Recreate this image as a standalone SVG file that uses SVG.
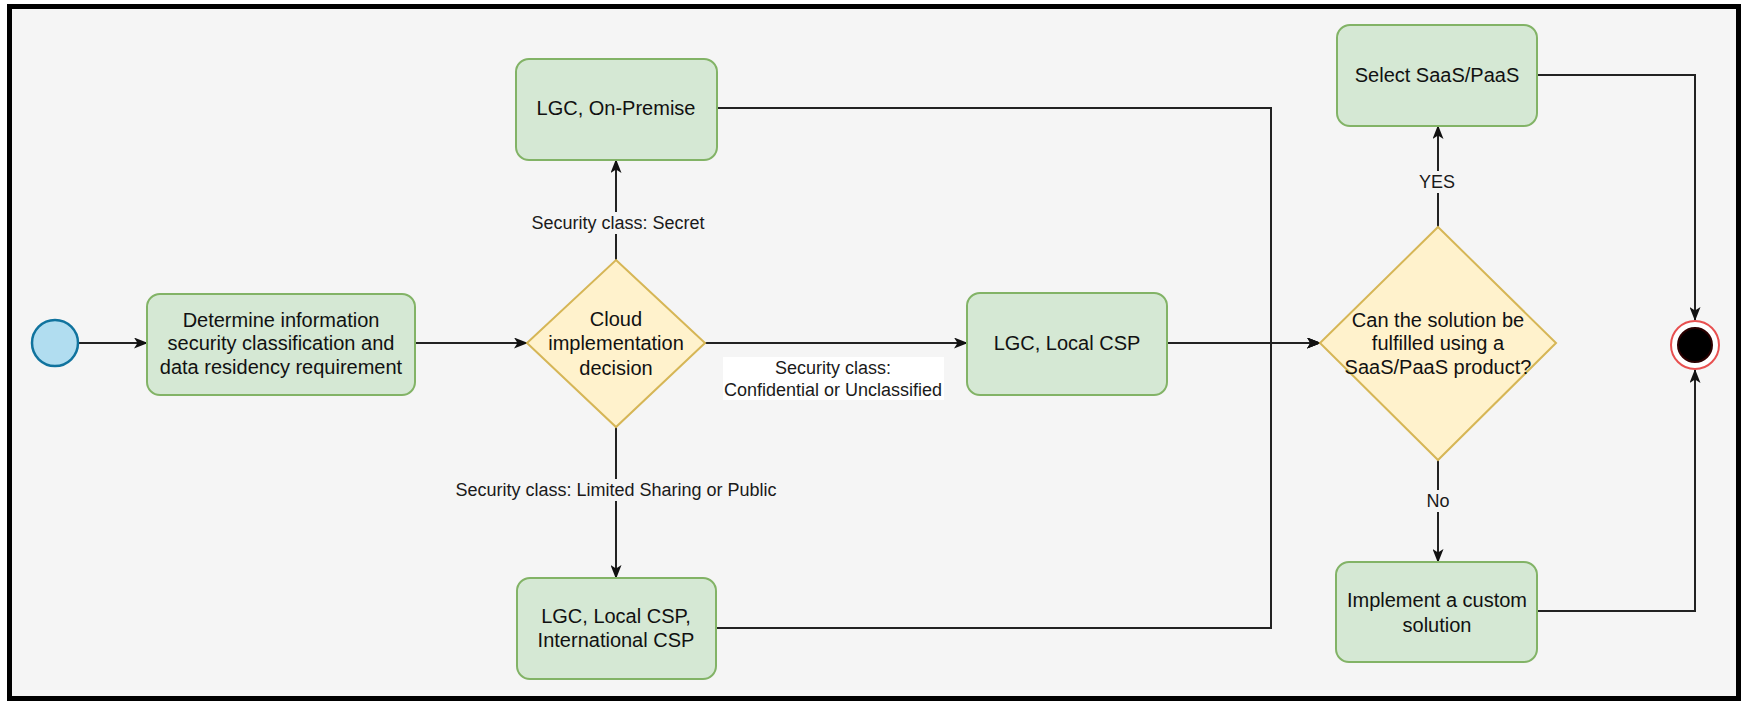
<svg xmlns="http://www.w3.org/2000/svg" width="1741" height="702" viewBox="0 0 1741 702">
  <style>
    .task { fill: #d5e8d4; stroke: #82b366; stroke-width: 2; }
    .gate { fill: #fff2cc; stroke: #d6b656; stroke-width: 2; }
    .node-text { font-family: "Liberation Sans", Arial, sans-serif; font-size: 20px; fill: #111; text-anchor: middle; }
    .edge { fill: none; stroke: #222; stroke-width: 2; }
    .edge-label { font-family: "Liberation Sans", Arial, sans-serif; font-size: 18px; fill: #1a1a1a; text-anchor: middle; }
    .label-bg { fill: #f5f5f5; }
  </style>
  <defs>
    <marker id="arrow" viewBox="0 0 14 11" refX="13" refY="5.5" markerWidth="14" markerHeight="11" markerUnits="userSpaceOnUse" orient="auto">
      <path d="M0,0 L14,5.5 L0,11 L3.5,5.5 Z" fill="#111"/>
    </marker>
  </defs>

  <!-- page background and frame -->
  <rect x="0" y="0" width="1741" height="702" fill="#ffffff"/>
  <rect x="9.5" y="6.5" width="1729" height="692" fill="#f5f5f5" stroke="#000" stroke-width="5"/>

  <!-- connectors -->
  <g id="connectors">
    <path class="edge" d="M79,343 H147" marker-end="url(#arrow)"/>
    <path class="edge" d="M415,343 H527" marker-end="url(#arrow)"/>
    <path class="edge" d="M616,260 V160" marker-end="url(#arrow)"/>
    <path class="edge" d="M705,343 H967" marker-end="url(#arrow)"/>
    <path class="edge" d="M616,427 V578" marker-end="url(#arrow)"/>
    <path class="edge" d="M717,108 H1271 V343 H1320" marker-end="url(#arrow)"/>
    <path class="edge" d="M716,628 H1271 V343 H1320" marker-end="url(#arrow)"/>
    <path class="edge" d="M1167,343 H1320" marker-end="url(#arrow)"/>
    <path class="edge" d="M1438,227 V126" marker-end="url(#arrow)"/>
    <path class="edge" d="M1438,460 V562" marker-end="url(#arrow)"/>
    <path class="edge" d="M1537,75 H1695 V320" marker-end="url(#arrow)"/>
    <path class="edge" d="M1537,611 H1695 V370" marker-end="url(#arrow)"/>

    <!-- edge labels -->
    <rect class="label-bg" x="530" y="212" width="176" height="22"/>
    <text class="edge-label" x="618" y="229">Security class: Secret</text>

    <rect x="723" y="357" width="221" height="43" fill="#ffffff"/>
    <text class="edge-label" x="833" y="374">Security class:</text>
    <text class="edge-label" x="833" y="396">Confidential or Unclassified</text>

    <rect class="label-bg" x="451" y="479" width="330" height="22"/>
    <text class="edge-label" x="616" y="496">Security class: Limited Sharing or Public</text>

    <rect class="label-bg" x="1418" y="171" width="40" height="22"/>
    <text class="edge-label" x="1437" y="188">YES</text>

    <rect class="label-bg" x="1424" y="490" width="28" height="22"/>
    <text class="edge-label" x="1438" y="507">No</text>
  </g>

  <!-- start event -->
  <g id="start">
    <circle cx="55" cy="343" r="23" fill="#b1ddf0" stroke="#10739e" stroke-width="2.5"/>
  </g>

  <!-- determine classification -->
  <g id="determine">
    <rect class="task" x="147" y="294" width="268" height="101" rx="13"/>
    <text class="node-text" x="281" y="327">Determine information</text>
    <text class="node-text" x="281" y="350">security classification and</text>
    <text class="node-text" x="281" y="374">data residency requirement</text>
  </g>

  <!-- cloud implementation decision -->
  <g id="cloud-decision">
    <polygon class="gate" points="616,260 705,343 616,427 527,343"/>
    <text class="node-text" x="616" y="326">Cloud</text>
    <text class="node-text" x="616" y="350">implementation</text>
    <text class="node-text" x="616" y="375">decision</text>
  </g>

  <!-- on-premise -->
  <g id="on-premise">
    <rect class="task" x="516" y="59" width="201" height="101" rx="13"/>
    <text class="node-text" x="616" y="115">LGC, On-Premise</text>
  </g>

  <!-- local CSP -->
  <g id="local-csp">
    <rect class="task" x="967" y="293" width="200" height="102" rx="13"/>
    <text class="node-text" x="1067" y="350">LGC, Local CSP</text>
  </g>

  <!-- local and international CSP -->
  <g id="international-csp">
    <rect class="task" x="517" y="578" width="199" height="101" rx="13"/>
    <text class="node-text" x="616" y="623">LGC, Local CSP,</text>
    <text class="node-text" x="616" y="647">International CSP</text>
  </g>

  <!-- SaaS/PaaS decision -->
  <g id="saas-decision">
    <polygon class="gate" points="1438,227 1556,343 1438,460 1320,343"/>
    <text class="node-text" x="1438" y="327">Can the solution be</text>
    <text class="node-text" x="1438" y="350">fulfilled using a</text>
    <text class="node-text" x="1438" y="374">SaaS/PaaS product?</text>
  </g>

  <!-- select SaaS/PaaS -->
  <g id="select-saas">
    <rect class="task" x="1337" y="25" width="200" height="101" rx="13"/>
    <text class="node-text" x="1437" y="82">Select SaaS/PaaS</text>
  </g>

  <!-- custom solution -->
  <g id="custom-solution">
    <rect class="task" x="1336" y="562" width="201" height="100" rx="13"/>
    <text class="node-text" x="1437" y="607">Implement a custom</text>
    <text class="node-text" x="1437" y="632">solution</text>
  </g>

  <!-- end event -->
  <g id="end">
    <circle cx="1695" cy="345" r="24" fill="#ffffff" stroke="#e85050" stroke-width="2"/>
    <circle cx="1695" cy="345" r="17" fill="#000" stroke="#2a0000" stroke-width="2"/>
  </g>
</svg>
